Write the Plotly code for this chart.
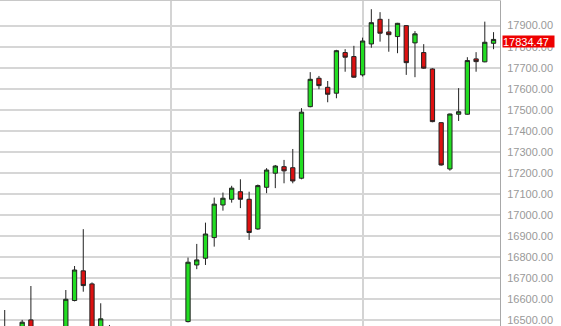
import plotly.graph_objects as go

# trading-day index of each visible candle
day = [0, 2, 3, 7, 8, 9, 10, 11, 12,
       21, 22, 23, 24, 25, 26, 27, 28, 29, 30, 31, 32, 33, 34, 35, 36, 37, 38,
       39, 40, 41, 42, 43, 44, 45, 46, 47, 48, 49, 50, 51, 52, 53, 54, 55, 56]
open_ = [16440, 16440, 16502, 16440, 16594, 16735, 16673, 16440, 16450,
         16494, 16763, 16795, 16893, 17048, 17075, 17111, 17075, 16934, 17132, 17199, 17230,
         17225, 17175, 17515, 17650, 17607, 17579, 17772, 17753, 17666, 17813, 17930, 17870,
         17848, 17900, 17818, 17772, 17694, 17439, 17219, 17479, 17479, 17742, 17728, 17816]
high = [16549, 16502, 16663, 16644, 16758, 16933, 16680, 16581, 16478,
        16798, 16863, 16964, 17083, 17107, 17139, 17170, 17111, 17145, 17223, 17238, 17262,
        17314, 17508, 17679, 17661, 17637, 17785, 17788, 17804, 17843, 17978, 17964, 17932,
        17913, 17902, 17874, 17812, 17697, 17440, 17482, 17603, 17750, 17774, 17919, 17869]
low = [16400, 16430, 16440, 16430, 16590, 16636, 16450, 16430, 16420,
       16490, 16743, 16763, 16850, 17021, 17059, 17033, 16882, 16930, 17104, 17128, 17151,
       17151, 17170, 17512, 17598, 17536, 17555, 17681, 17652, 17658, 17795, 17824, 17776,
       17769, 17666, 17655, 17695, 17441, 17235, 17211, 17447, 17477, 17681, 17726, 17788]
close = [16420, 16491, 16450, 16600, 16739, 16665, 16460, 16507, 16440,
         16776, 16787, 16910, 17052, 17080, 17128, 17075, 16917, 17140, 17214, 17233, 17210,
         17162, 17489, 17645, 17615, 17574, 17781, 17750, 17655, 17827, 17914, 17864, 17857,
         17911, 17724, 17861, 17698, 17444, 17238, 17480, 17491, 17734, 17729, 17821, 17834.47]

price_ticks = [16500, 16600, 16700, 16800, 16900, 17000, 17100, 17200,
               17300, 17400, 17500, 17600, 17700, 17800, 17900]
month_starts = [19, 41]
last_price = 17834.47
y_min, y_max = 16473, 18017
x_min, x_max = -0.54, 56.74

fig = go.Figure(go.Candlestick(
    x=day, open=open_, high=high, low=low, close=close,
    increasing=dict(fillcolor="#22dd22", line=dict(color="#222222", width=1)),
    decreasing=dict(fillcolor="#dd1111", line=dict(color="#222222", width=1)),
    whiskerwidth=0,
    hoverinfo="skip",
))

fig.update_layout(
    width=561, height=326,
    margin=dict(l=0, r=61, t=1, b=0),
    paper_bgcolor="white", plot_bgcolor="white",
    showlegend=False,
    xaxis=dict(
        range=[x_min, x_max], rangeslider=dict(visible=False),
        tickvals=month_starts, showticklabels=False, ticks="",
        showgrid=True, gridcolor="#d4d4d4", gridwidth=1.5,
        showline=True, mirror=True, linecolor="#c8c8c8", linewidth=2,
        zeroline=False,
    ),
    yaxis=dict(
        side="right", range=[y_min, y_max],
        tickvals=price_ticks, tickformat=".2f", ticks="",
        tickfont=dict(family="Liberation Sans, Arial", size=11, color="#999999"),
        showgrid=True, gridcolor="#d6d6d6", gridwidth=1.5,
        showline=True, linecolor="#a8a8a8", linewidth=1,
        zeroline=False, ticklabelstandoff=4, ticklabeloverflow="allow",
    ),
)

fig.add_annotation(
    x=1, xref="paper", y=last_price, yref="y",
    xanchor="left", yanchor="middle", xshift=2, yshift=-2,
    text=f"{last_price:.2f}", showarrow=False,
    bgcolor="#ee0000", borderpad=0, width=51, height=11, align="left",
    font=dict(family="Liberation Sans, Arial", size=11, color="white"),
)

fig.write_html("out.html")
